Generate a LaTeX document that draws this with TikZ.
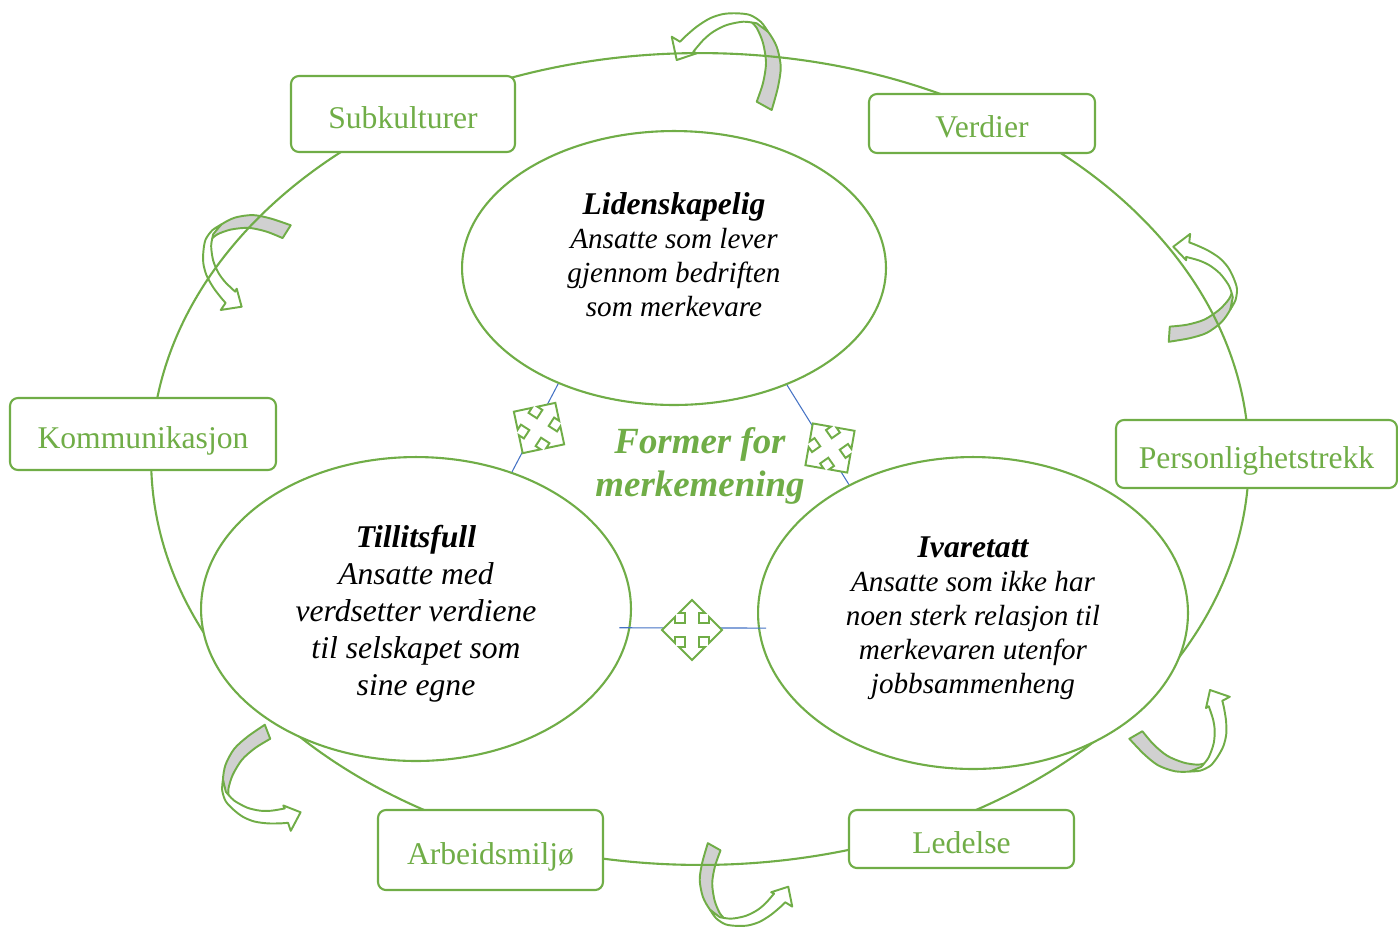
\documentclass[tikz,border=0pt]{standalone}
\usepackage{fontspec}
\setmainfont{Liberation Serif}
\usepackage{tikz}
\usetikzlibrary{shapes.geometric}
\definecolor{leafGreen}{RGB}{112,173,71}
\definecolor{bandGray}{RGB}{208,208,208}
\definecolor{linkBlue}{RGB}{68,114,196}
\tikzset{
  cycle ring/.style={ellipse,draw=leafGreen,line width=1.2pt,inner sep=0pt},
  form node/.style={ellipse,draw=leafGreen,fill=white,line width=1.2pt,inner sep=0pt},
  factor node/.style={draw=leafGreen,fill=white,rounded corners=4.5pt,line width=1.2pt,text=leafGreen,inner sep=0pt,text height=16pt,text depth=0pt,font=\fontsize{18pt}{21pt}\selectfont},
  form text/.style={align=center,font=\fontsize{16.6pt}{19.3pt}\selectfont\itshape},
  link line/.style={draw=linkBlue,line width=0.6pt},
  turn back/.style={draw=leafGreen,fill=bandGray,line width=1.1pt,line join=round},
  turn front/.style={draw=leafGreen,fill=white,line width=1.1pt,line join=round},
  quad/.style={draw=leafGreen,fill=white,line width=1.1pt},
  turn arrow/.pic={
    \filldraw[turn back] plot[smooth] coordinates {(46.7,50) (53,27) (55.7,6.7) (51.7,-13.3) (43,-28.3) (33,-37)}
      -- plot[smooth] coordinates {(25,-39.3) (31.7,-32) (38,-17) (41,3) (38,23) (31.7,41.7)} -- cycle;
    \filldraw[turn front] plot[smooth] coordinates {(43,-28.3) (36,-38) (25,-45) (11.7,-46.7) (-1.7,-46) (-15,-41.7) (-28.3,-33.3) (-40,-23.3) (-45,-18.3)}
      -- (-53.3,-23.3) -- (-48.3,0) -- (-28.3,-6.7)
      -- plot[smooth] coordinates {(-31.7,-8.3) (-21.7,-20) (-11.7,-28.3) (1.7,-35) (18.3,-38.3) (31.7,-36.7)} -- cycle;
  },
  quad arrow/.pic={
    \filldraw[quad] (0,-30) -- (13,-17) -- (7,-17) -- (7,-7) -- (17,-7) -- (17,-13) -- (30,0)
      -- (17,13) -- (17,7) -- (7,7) -- (7,17) -- (13,17) -- (0,30)
      -- (-13,17) -- (-7,17) -- (-7,7) -- (-17,7) -- (-17,13) -- (-30,0)
      -- (-17,-13) -- (-17,-7) -- (-7,-7) -- (-7,-17) -- (-13,-17) -- cycle;
  }
}

\begin{document}
\begin{tikzpicture}[x=0.02cm,y=-0.02cm]
  \useasboundingbox (0,0) rectangle (1398,931);

  % turning arrows along the cycle
  \pic at (725,60) {turn arrow};
  \pic[rotate=86.7,scale=0.886] at (244.1,264) {turn arrow};
  \pic[rotate=-65,scale=0.887] at (1191.4,285.5) {turn arrow};
  \pic[rotate=-121.1,scale=0.878] at (1188.1,726.3) {turn arrow};
  \pic[rotate=-180.7,scale=0.852] at (747.1,886.2) {turn arrow};
  \pic[rotate=140,scale=0.881] at (268,784.9) {turn arrow};

  % outer cycle
  \node[cycle ring,minimum width=21.96cm,minimum height=16.24cm] (ring) at (700,459) {};

  % the three forms
  \node[form node,minimum width=8.48cm,minimum height=5.48cm] (lid) at (674,268) {};
  \node[form node,minimum width=8.6cm,minimum height=6.08cm] (till) at (416,609) {};
  \node[form node,minimum width=8.6cm,minimum height=6.24cm] (ivar) at (973,613) {};

  % factors on the cycle
  \node[factor node,minimum width=4.48cm,minimum height=1.52cm] (sub) at (403,114) {Subkulturer};
  \node[factor node,minimum width=4.52cm,minimum height=1.18cm] (verd) at (982,123.5) {Verdier};
  \node[factor node,minimum width=5.62cm,minimum height=1.36cm] (pers) at (1256.5,454) {Personlighetstrekk};
  \node[factor node,minimum width=5.32cm,minimum height=1.44cm] (komm) at (143,434) {Kommunikasjon};
  \node[factor node,minimum width=4.5cm,minimum height=1.6cm] (arb) at (490.5,850) {Arbeidsmiljø};
  \node[factor node,minimum width=4.5cm,minimum height=1.16cm] (led) at (961.5,839) {Ledelse};

  % links between the forms
  \draw[link line] (lid.225.7) -- (till.55.1);
  \draw[link line] (lid.-46.3) -- (ivar.134.2);
  \draw[link line,shorten <=-0.22cm,shorten >=-0.16cm] (till.-5.4) -- (ivar.184.5);
  \pic[rotate=57] at (539,428) {quad arrow};
  \pic[rotate=35] at (830,448) {quad arrow};
  \pic at (692,630) {quad arrow};

  % texts
  \node[form text] (lidtext) at (674,255) {{\fontsize{18pt}{19.3pt}\selectfont\bfseries Lidenskapelig}\\Ansatte som lever\\gjennom bedriften\\som merkevare};
  \node[form text,font=\fontsize{18pt}{21pt}\selectfont\itshape] (tilltext) at (416,614) {\textbf{Tillitsfull}\\Ansatte med\\verdsetter verdiene\\til selskapet som\\sine egne};
  \node[form text] (ivartext) at (973,618) {{\fontsize{18pt}{19.3pt}\selectfont\bfseries Ivaretatt}\\Ansatte som ikke har\\noen sterk relasjon til\\merkevaren utenfor\\jobbsammenheng};
  \node[align=center,text=leafGreen,font=\fontsize{21pt}{24.4pt}\selectfont\bfseries\itshape] (former) at (700,466) {Former for\\merkemening};
\end{tikzpicture}
\end{document}
